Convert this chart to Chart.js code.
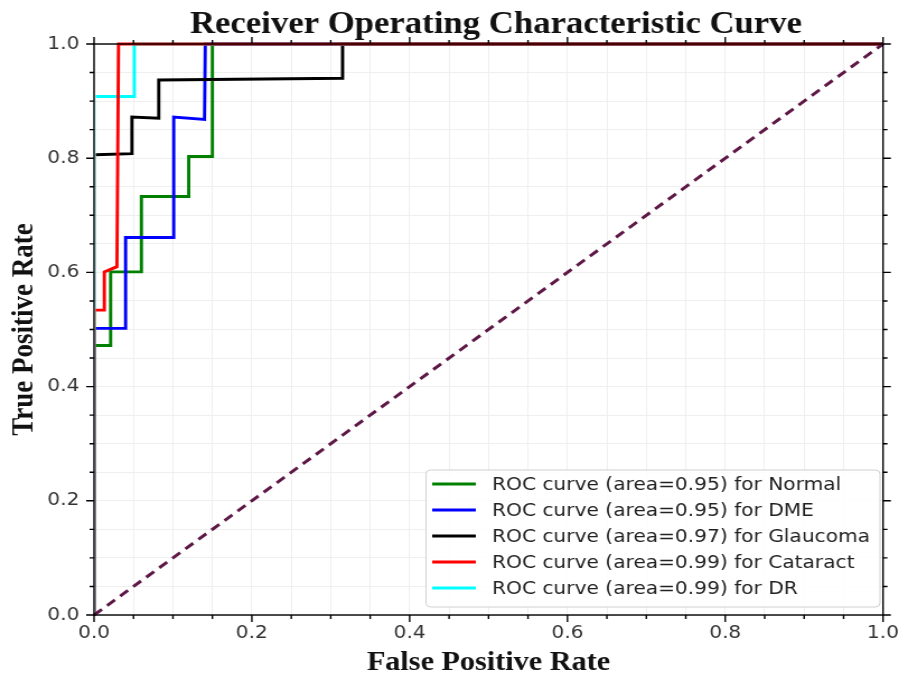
<!DOCTYPE html>
<html lang="en">
<head>
    <meta charset="UTF-8">
    <title>Receiver Operating Characteristic Curve</title>
    <style>
        body {
            margin: 0;
            padding: 0;
            background-color: #ffffff;
        }
        .wrap {
            width: 908px;
            height: 673px;
        }
    </style>
</head>
<body>
    <div class="wrap">
        <!-- the original figure is slightly stretched sideways, so the canvas is too -->
        <canvas id="rocChart" width="811" height="673" style="width:908px;height:673px;display:block"></canvas>
    </div>

    <script src="https://cdn.jsdelivr.net/npm/chart.js"></script>
    <script>
        // Curve points (false positive rate / true positive rate)
        const normalFpr = [0, 0, 0.021, 0.021, 0.060, 0.060, 0.120, 0.120, 0.150, 0.150, 1.0];
        const normalTpr = [0, 0.472, 0.472, 0.601, 0.601, 0.733, 0.733, 0.803, 0.803, 1.0, 1.0];

        const dmeFpr = [0, 0, 0.040, 0.040, 0.101, 0.101, 0.140, 0.141, 1.0];
        const dmeTpr = [0, 0.502, 0.502, 0.661, 0.661, 0.872, 0.868, 1.0, 1.0];

        const glaucomaFpr = [0, 0, 0.048, 0.048, 0.082, 0.082, 0.315, 0.315, 1.0];
        const glaucomaTpr = [0, 0.806, 0.808, 0.872, 0.870, 0.937, 0.940, 1.0, 1.0];

        const cataractFpr = [0, 0, 0.013, 0.013, 0.029, 0.031, 1.0];
        const cataractTpr = [0, 0.534, 0.534, 0.601, 0.610, 1.0, 1.0];

        const drFpr = [0, 0, 0.051, 0.051, 1.0];
        const drTpr = [0, 0.908, 0.908, 1.0, 1.0];

        const chanceFpr = [0, 1];
        const chanceTpr = [0, 1];

        const classNames = ['Normal', 'DME', 'Glaucoma', 'Cataract', 'DR'];
        const areas = ['0.95', '0.95', '0.97', '0.99', '0.99'];
        const lineColors = ['#008000', '#0000ff', '#000000', '#ff0000', '#00ffff'];

        function toPoints(xs, ys) {
            return xs.map((x, i) => ({ x: x, y: ys[i] }));
        }

        const curves = [
            [normalFpr, normalTpr],
            [dmeFpr, dmeTpr],
            [glaucomaFpr, glaucomaTpr],
            [cataractFpr, cataractTpr],
            [drFpr, drTpr]
        ];
        // red sits on top of the others along the top edge
        const drawOrder = [5, 4, 3, 1, 2];

        const datasets = curves.map((c, i) => ({
            label: 'ROC curve (area=' + areas[i] + ') for ' + classNames[i],
            data: toPoints(c[0], c[1]),
            borderColor: lineColors[i],
            backgroundColor: lineColors[i],
            borderWidth: 2.9,
            showLine: true,
            pointRadius: 0,
            tension: 0,
            clip: { left: -1.5, top: 4, right: 4, bottom: 0 },
            order: drawOrder[i]
        }));

        datasets.push({
            label: 'chance',
            data: toPoints(chanceFpr, chanceTpr),
            borderColor: '#5e1846',
            borderWidth: 3,
            borderDash: [9, 6],
            showLine: true,
            pointRadius: 0,
            clip: 4,
            order: 0
        });

        // frame, ticks on all four sides, texts and legend box
        const decorations = {
            id: 'decorations',
            afterDraw(chart) {
                const c = chart.ctx;
                const a = chart.chartArea;
                const xs = chart.scales.x;
                const ys = chart.scales.y;
                c.save();
                c.strokeStyle = '#000';
                c.lineWidth = 1.4;
                c.strokeRect(a.left, a.top, a.right - a.left, a.bottom - a.top);

                for (let k = 0; k <= 20; k++) {
                    const v = k * 0.05;
                    const len = (k % 4 === 0) ? 7 : 4;
                    const px = xs.getPixelForValue(v);
                    const py = ys.getPixelForValue(v);
                    c.beginPath();
                    c.moveTo(px, a.bottom); c.lineTo(px, a.bottom + len);
                    c.moveTo(px, a.top); c.lineTo(px, a.top - len);
                    c.moveTo(a.left, py); c.lineTo(a.left - len, py);
                    c.moveTo(a.right, py); c.lineTo(a.right + len, py);
                    c.stroke();
                }

                c.fillStyle = '#111';
                c.textAlign = 'center';
                c.textBaseline = 'alphabetic';
                c.font = 'bold 31px "Liberation Serif"';
                c.fillText('Receiver Operating Characteristic Curve', 443, 33);

                c.font = 'bold 27px "Liberation Serif"';
                c.fillText('False Positive Rate', (a.left + a.right) / 2, 670);

                c.save();
                c.translate(29, (a.top + a.bottom) / 2);
                c.rotate(-Math.PI / 2);
                c.font = 'bold 27px "Liberation Serif"';
                c.fillText('True Positive Rate', 0, 0);
                c.restore();

                // legend
                const lx = 380.5, ly = 470, lw = 405.5, lh = 137;
                c.fillStyle = 'rgba(255,255,255,0.85)';
                c.strokeStyle = '#d0d0d0';
                c.lineWidth = 1;
                c.beginPath();
                c.roundRect(lx, ly, lw, lh, 4);
                c.fill();
                c.stroke();

                c.font = '18px "DejaVu Sans"';
                c.textAlign = 'left';
                c.textBaseline = 'middle';
                for (let i = 0; i < classNames.length; i++) {
                    const ry = 484 + i * 26;
                    c.strokeStyle = lineColors[i];
                    c.lineWidth = 3;
                    c.beginPath();
                    c.moveTo(386, ry); c.lineTo(425, ry);
                    c.stroke();
                    c.fillStyle = '#222';
                    c.fillText(chart.data.datasets[i].label, 439.5, ry + 1);
                }
                c.restore();
            }
        };

        const tickLabel = (v) => (Math.round(v * 100) % 20 === 0) ? v.toFixed(1) : '';

        const ctx = document.getElementById('rocChart').getContext('2d');
        const rocChart = new Chart(ctx, {
            type: 'scatter',
            data: { datasets: datasets },
            options: {
                responsive: false,
                animation: false,
                layout: {
                    padding: { top: 44, right: 19, bottom: 0, left: 0 }
                },
                plugins: {
                    legend: { display: false },
                    tooltip: { enabled: false }
                },
                scales: {
                    x: {
                        type: 'linear',
                        min: 0,
                        max: 1,
                        afterFit: (s) => { s.height = 58; },
                        grid: { color: '#efefef', lineWidth: 1, drawTicks: false },
                        border: { display: false },
                        ticks: {
                            stepSize: 0.05,
                            autoSkip: false,
                            maxRotation: 0,
                            padding: 8,
                            color: '#333',
                            font: { family: 'DejaVu Sans', size: 18 },
                            callback: tickLabel
                        }
                    },
                    y: {
                        type: 'linear',
                        min: 0,
                        max: 1,
                        afterFit: (s) => { s.width = 84; },
                        grid: { color: '#efefef', lineWidth: 1, drawTicks: false },
                        border: { display: false },
                        ticks: {
                            stepSize: 0.05,
                            autoSkip: false,
                            padding: 13,
                            color: '#333',
                            font: { family: 'DejaVu Sans', size: 18 },
                            callback: tickLabel
                        }
                    }
                }
            },
            plugins: [decorations]
        });
    </script>
</body>
</html>
